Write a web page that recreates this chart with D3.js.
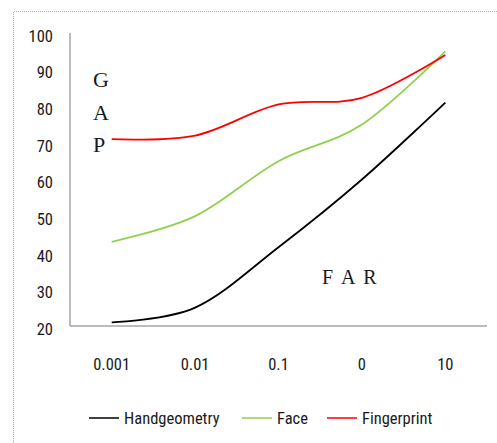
<!DOCTYPE html>
<html>
<head>
<meta charset="utf-8">
<script src="https://cdn.jsdelivr.net/npm/d3@7"></script>
<style>
  body { margin: 0; background: #fff; }
  svg text { font-family: "Liberation Sans Narrow", "Roboto Condensed", "DejaVu Sans Condensed", sans-serif; fill: #1a1a1a; }
</style>
</head>
<body>
<div id="chart"></div>
<script>
const categories = ['0.001', '0.01', '0.1', '0', '10']
const yTicks = [20, 30, 40, 50, 60, 70, 80, 90, 100]
const seriesNames = ['Handgeometry', 'Face', 'Fingerprint']
const handgeometry = [21, 25, 41.5, 60, 81]
const face = [43, 50, 65, 75, 95]
const fingerprint = [71, 72, 80.5, 82.3, 94]
const colors = ['#000000', '#92d050', '#ff0000']

const width = 497
const height = 443

const svg = d3.select('#chart')
  .append('svg')
  .attr('width', width)
  .attr('height', height)

// dotted frame (only top and left are in view)
svg.append('path')
  .attr('d', 'M13.5,' + height + 'V11.5H' + width)
  .attr('fill', 'none')
  .attr('stroke', '#b0b0b0')
  .attr('stroke-dasharray', '1,1')

const x = d3.scalePoint()
  .domain(categories)
  .range([70, 487])
  .padding(0.5)

const y = d3.scaleLinear()
  .domain([20, 100])
  .range([326, 33])

// axes
svg.append('line')
  .attr('x1', 70).attr('x2', 70)
  .attr('y1', y(100)).attr('y2', y(20))
  .attr('stroke', '#a6a6a6').attr('stroke-width', 1.5)
svg.append('line')
  .attr('x1', 70).attr('x2', 487)
  .attr('y1', y(20)).attr('y2', y(20))
  .attr('stroke', '#a6a6a6').attr('stroke-width', 1.5)

svg.append('g').selectAll('text')
  .data(yTicks)
  .join('text')
  .attr('x', 53)
  .attr('y', d => y(d) + 3)
  .attr('dy', '0.35em')
  .attr('text-anchor', 'end')
  .attr('font-size', 16.5)
  .text(d => d)

svg.append('g').selectAll('text')
  .data(categories)
  .join('text')
  .attr('x', d => x(d))
  .attr('y', 364)
  .attr('dy', '0.35em')
  .attr('text-anchor', 'middle')
  .attr('font-size', 16.5)
  .text(d => d)

const line = d3.line()
  .x((d, i) => x(categories[i]))
  .y(d => y(d))
  .curve(d3.curveCardinal.tension(0))

svg.append('g').selectAll('path')
  .data([handgeometry, face, fingerprint])
  .join('path')
  .attr('d', line)
  .attr('fill', 'none')
  .attr('stroke', (d, i) => colors[i])
  .attr('stroke-width', 1.8)

// axis titles drawn inside the plot
svg.append('g').selectAll('text')
  .data(['G', 'A', 'P'])
  .join('text')
  .attr('x', 93)
  .attr('y', (d, i) => 87 + i * 32.5)
  .attr('font-size', 22)
  .style('font-family', '"Liberation Serif", serif')
  .text(d => d)

svg.append('text')
  .attr('x', 322)
  .attr('y', 284)
  .attr('font-size', 20)
  .attr('letter-spacing', 2)
  .style('font-family', '"Liberation Serif", serif')
  .text('F A R')

// legend
const legendX = [89, 242, 327]
const legend = svg.append('g').selectAll('g')
  .data(seriesNames)
  .join('g')
  .attr('transform', (d, i) => `translate(${legendX[i]},418)`)
legend.append('line')
  .attr('x1', 0).attr('x2', 30)
  .attr('stroke', (d, i) => colors[i])
  .attr('stroke-width', 1.5)
legend.append('text')
  .attr('x', 35)
  .attr('dy', '0.35em')
  .attr('font-size', 16.5)
  .text(d => d)
</script>
</body>
</html>
